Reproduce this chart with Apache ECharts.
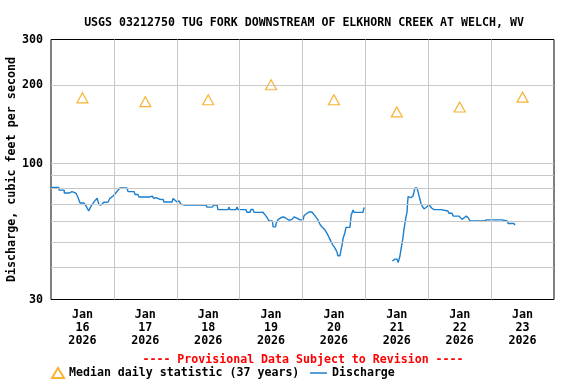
<!DOCTYPE html>
<html>
<head>
<meta charset="utf-8">
<script src="https://cdn.jsdelivr.net/npm/echarts@6/dist/echarts.min.js"></script>
<style>html,body{margin:0;padding:0;background:#fff}#c{width:576px;height:384px}</style>
</head>
<body>
<div id="c"></div>
<script>
// ---- Data ----
const titleText = 'USGS 03212750 TUG FORK DOWNSTREAM OF ELKHORN CREEK AT WELCH, WV';
const yAxisName = 'Discharge, cubic feet per second';
const provisionalText = '---- Provisional Data Subject to Revision ----';
const medianName = 'Median daily statistic (37 years)';
const dischargeName = 'Discharge';

// x axis: hours since Jan 16 2026 00:00
const tickMonths = ['Jan','Jan','Jan','Jan','Jan','Jan','Jan','Jan'];
const tickDays = ['16','17','18','19','20','21','22','23'];
const tickYears = ['2026','2026','2026','2026','2026','2026','2026','2026'];
const tickHours = [12, 36, 60, 84, 108, 132, 156, 180];
const dayBoundaryHours = [24, 48, 72, 96, 120, 144, 168];
const yTickValues = [30, 100, 200, 300];
const yGridValues = [40, 50, 60, 70, 80, 90, 100, 200];

// median daily statistic (at noon of each day)
const medianHours = [12, 36, 60, 84, 108, 132, 156, 180];
const medianCfs = [179, 173, 176, 201, 176, 158, 165, 180];

// discharge (cfs) — null marks the data gap
const dischargeHours = [
  0, 3.0, 3.1, 5.0, 5.1, 6.9, 7.3, 8.0, 8.1, 9.5, 10.3, 11.1, 11.8, 12.6, 13.4, 14.4, 14.9, 15.6, 16.8, 17.6,
  17.9, 18.3, 19.1, 19.5, 20.2, 21.8, 22.5, 23.7, 24.4, 25.6, 26.3, 29.0, 29.4, 31.7, 32.1, 33.2, 33.6, 37.8, 38.6, 39.3,
  40.1, 40.8, 41.6, 42.8, 43.1, 46.2, 46.6, 47.3, 48.1, 48.9, 49.6, 51.2, 59.2, 59.5, 61.5, 62.2, 63.4, 63.7, 67.6, 67.9,
  68.3, 70.6, 71.0, 71.4, 74.4, 74.8, 76.0, 76.3, 77.1, 77.5, 79.8, 80.9, 81.4, 82.1, 82.6, 83.3, 84.5, 84.8, 85.7, 85.9,
  86.6, 87.4, 88.5, 89.3, 89.7, 90.8, 92.0, 92.8, 93.9, 95.0, 96.2, 96.6, 97.7, 98.5, 99.6, 100.0, 101.2, 101.9, 102.7, 103.4,
  104.6, 105.4, 106.0, 106.9, 107.6, 108.4, 109.2, 109.5, 110.3, 110.7, 111.1, 111.5, 112.2, 112.6, 114.1, 114.3, 114.6, 115.3, 115.7, 119.1,
  119.5,
  125,
  130.3, 130.9, 131.3, 132.1, 132.3, 132.5, 132.8, 133.2, 133.6, 134.0, 134.4, 134.7, 135.1, 135.5, 135.9, 136.1, 136.3, 137.0, 137.4, 138.2,
  138.6, 138.9, 139.7, 140.1, 140.5, 140.9, 141.3, 142.0, 142.4, 143.1, 143.5, 144.3, 145.0, 145.4, 146.2, 148.9, 149.3, 151.5, 151.9, 153.1,
  153.5, 155.7, 156.1, 156.9, 157.7, 158.5, 159.3, 160.0, 165.4, 165.8, 166.2, 172.2, 172.6, 174.1, 174.5, 176.7, 177.1
];
const dischargeCfs = [
  81, 81, 79, 79, 77, 77, 78, 78, 77, 77, 74, 70.5, 70, 70.5, 68.6, 65.7, 67.4, 69.4, 72, 73.5,
  71.8, 69.5, 69.3, 70.5, 71, 71.1, 73.5, 75, 76.4, 79, 80.5, 80.5, 78, 78, 76, 76, 74.4, 74.4, 75, 73.4,
  74, 74.4, 72.8, 72.7, 71.1, 71.1, 73.4, 72.4, 71.1, 71.8, 69.7, 69.3, 69.3, 68, 68, 69.3, 69.3, 66.5, 66.5, 68,
  66.5, 66.5, 68, 66.5, 66.5, 65, 65, 66.6, 66.6, 64.9, 64.9, 65, 64.5, 62.8, 61.7, 60.1, 60.1, 57.1, 57.1, 58.8,
  60.7, 61.6, 62.3, 62, 61, 60.5, 61, 62.3, 61.7, 60.7, 60.7, 63, 64.4, 65.1, 65.1, 64.4, 62.1, 60.7, 58.3, 57.1,
  55.5, 53.8, 52.3, 50.1, 48.6, 47.3, 45.6, 44.2, 44.2, 46.5, 48.6, 51.5, 54.3, 56.8, 56.8, 59.4, 63.4, 66.3, 64.9, 64.9,
  67.8,
  null,
  42.2, 42.2, 42.9, 42.9, 42.2, 41.6, 42.6, 44.1, 46.9, 49.3, 52.3, 55.5, 58.8, 62.4, 65, 70.3, 74.6, 75.3, 73.9, 75,
  78, 80.5, 80.5, 78, 75, 72.4, 69.7, 68.6, 66.9, 66.9, 68.2, 69.3, 68.6, 67.3, 66.5, 66.5, 65.7, 65.7, 64.4, 64.4,
  62.8, 62.8, 61.9, 61, 61.9, 62.8, 61.7, 60.2, 60.2, 59.6, 60.7, 60.7, 60.1, 60.1, 58.8, 58.8, 58
];

// ---- Chart ----
const FONT = 'DejaVu Sans Mono';
const chart = echarts.init(document.getElementById('c'), null, {renderer: 'canvas'});
const medianData = medianHours.map((h, i) => [h, medianCfs[i]]);
const dischargeData = dischargeHours.map((h, i) => [h, dischargeCfs[i]]);
const gridLineStyle = {color: '#c8c8c8', width: 1, type: 'solid'};
const LINE_COLOR = '#1a7fd0';

chart.setOption({
  animation: false,
  backgroundColor: '#ffffff',
  textStyle: {fontFamily: FONT, fontWeight: 'bold', color: '#000'},
  title: [
    {text: titleText, left: 299, top: 12, textAlign: 'center',
     textStyle: {fontFamily: FONT, fontWeight: 'bold', fontSize: 11.6, color: '#000'}},
    {text: provisionalText, left: 298, top: 349, textAlign: 'center',
     textStyle: {fontFamily: FONT, fontWeight: 'bold', fontSize: 11.6, color: '#ff0000'}}
  ],
  legend: [
    {data: [medianName], left: 46, top: 362, itemWidth: 12, itemHeight: 10, itemGap: 0,
     textStyle: {fontFamily: FONT, fontWeight: 'bold', fontSize: 11.6, color: '#000'}},
    {data: [{name: dischargeName, icon: 'rect', itemStyle: {color: LINE_COLOR}}], left: 305, top: 362, itemWidth: 17, itemHeight: 1.5,
     textStyle: {fontFamily: FONT, fontWeight: 'bold', fontSize: 11.6, color: '#000'}}
  ],
  grid: {left: 51, right: 22, top: 39.5, bottom: 84.5, show: true, borderColor: '#000', borderWidth: 1,
         backgroundColor: 'transparent', containLabel: false, outerBoundsMode: 'none'},
  xAxis: {
    type: 'value', min: 0, max: 192,
    axisLine: {show: false}, axisTick: {show: false}, splitLine: {show: false},
    axisLabel: {
      customValues: tickHours, margin: 9, lineHeight: 13,
      fontFamily: FONT, fontWeight: 'bold', fontSize: 11.7, color: '#000',
      formatter: function (v) {
        const i = tickHours.indexOf(Math.round(v));
        return i < 0 ? '' : tickMonths[i] + '\n' + tickDays[i] + '\n' + tickYears[i];
      }
    }
  },
  yAxis: {
    type: 'log', logBase: 10, min: 30, max: 300,
    name: yAxisName, nameLocation: 'middle', nameGap: 33, nameRotate: 90, nameMoveOverlap: false,
    nameTextStyle: {fontFamily: FONT, fontWeight: 'bold', fontSize: 11.7, color: '#000'},
    axisLine: {show: false}, axisTick: {show: false}, splitLine: {show: false},
    axisLabel: {
      customValues: yTickValues, margin: 8,
      fontFamily: FONT, fontWeight: 'bold', fontSize: 11.7, color: '#000',
      formatter: function (v) { return String(Math.round(v)); }
    }
  },
  series: [
    {
      name: 'grid', type: 'line', data: [], silent: true, z: 1,
      markLine: {
        silent: true, symbol: 'none', label: {show: false}, animation: false,
        lineStyle: gridLineStyle,
        emphasis: {disabled: true},
        data: yGridValues.map(v => ({yAxis: v})).concat(dayBoundaryHours.map(h => ({xAxis: h})))
      }
    },
    {
      name: medianName, type: 'scatter', data: medianData, z: 4,
      symbol: 'triangle', symbolSize: [11, 10],
      itemStyle: {color: '#ffffff', borderColor: '#f5a000', borderWidth: 1.2}
    },
    {
      name: dischargeName, type: 'line', data: dischargeData, z: 3,
      symbol: 'none', showSymbol: false, connectNulls: false,
      lineStyle: {color: LINE_COLOR, width: 1.4},
      itemStyle: {color: LINE_COLOR}
    }
  ]
});
</script>
</body>
</html>
